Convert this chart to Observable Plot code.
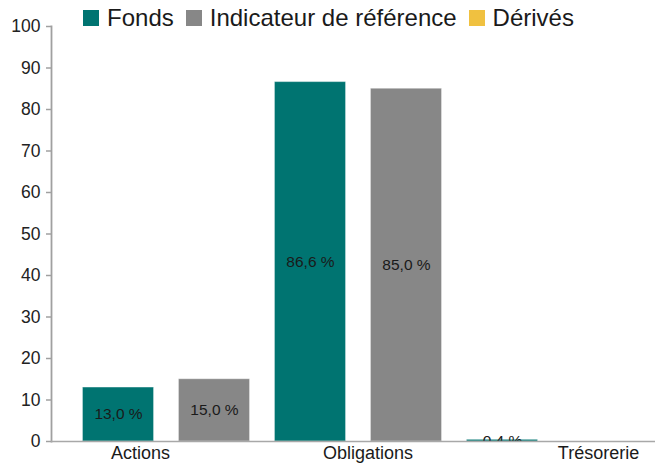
<!DOCTYPE html>
<html>
<head>
<meta charset="utf-8">
<script src="https://cdn.jsdelivr.net/npm/d3@7"></script>
<script src="https://cdn.jsdelivr.net/npm/@observablehq/plot@0.6"></script>
<style>
  html, body { margin: 0; padding: 0; background: #fff; }
  body { width: 657px; height: 465px; position: relative; overflow: hidden; font-family: "Liberation Sans", Arial, sans-serif; }
  #legend { position: absolute; top: 6px; left: 0; width: 657px; display: flex; justify-content: center; align-items: center; font-size: 24px; line-height: 24px; color: #1a1a1a; z-index: 2; }
  #legend .item { display: flex; align-items: center; margin: 0 6px; }
  #legend .sw { width: 16px; height: 16px; margin-right: 8px; }
  #chart { position: absolute; top: 0; left: 0; }
</style>
</head>
<body>
<div id="legend"></div>
<div id="chart"></div>
<script>
// ---- data ----
const categories = ["Actions", "Obligations", "Trésorerie"];
const series = ["Fonds", "Indicateur de référence", "Dérivés"];
const fonds = [13.0, 86.6, 0.4];
const indicateur = [15.0, 85.0, 0.0];
const derives = [0, 0, 0];
const yTicks = [0, 10, 20, 30, 40, 50, 60, 70, 80, 90, 100];
// category label positions (in bar-slot units)
const categoryTickPos = [0.23, 2.6, 5.0];

const colors = ["#007471", "#878787", "#f0c140"];

// ---- table ----
const rows = [];
categories.forEach((c, ci) => {
  [fonds, indicateur].forEach((arr, si) => {
    rows.push({ category: c, series: series[si], value: arr[ci], slot: ci * 2 + si });
  });
});
const halfBar = 0.37;

// ---- legend ----
const legend = document.getElementById("legend");
series.forEach((s, i) => {
  const it = document.createElement("div");
  it.className = "item";
  const sw = document.createElement("span");
  sw.className = "sw";
  sw.style.background = colors[i];
  const tx = document.createElement("span");
  tx.textContent = s;
  it.appendChild(sw); it.appendChild(tx);
  legend.appendChild(it);
});

const fmt = v => v.toFixed(1).replace(".", ",") + " %";

const chart = Plot.plot({
  width: 657,
  height: 465,
  marginLeft: 51,
  marginRight: 2,
  marginTop: 26,
  marginBottom: 24,
  style: { fontFamily: "Liberation Sans, Arial, sans-serif", color: "#1a1a1a", background: "#fff" },
  x: { type: "linear", domain: [-0.698, 5.594], axis: null, label: null },
  y: { domain: [0, 100], axis: null, label: null },
  color: { domain: series, range: colors },
  marks: [
    Plot.rectY(rows.filter(d => d.value > 0), {
      x1: d => d.slot - halfBar,
      x2: d => d.slot + halfBar,
      y1: 0,
      y2: "value",
      fill: "series",
      stroke: "#ffffff",
      strokeOpacity: 0.35,
      strokeWidth: 1
    }),
    Plot.text(rows.filter(d => d.value > 0), {
      x: "slot",
      y: d => d.value / 2,
      text: d => fmt(d.value),
      fill: "#1a1a1a",
      fontSize: 15.5,
      clip: true
    }),
    Plot.axisY({
      ticks: yTicks,
      tickSize: 5,
      tickPadding: 6,
      stroke: "#a0a0a0",
      strokeWidth: 1.5,
      fill: "#222",
      fontSize: 17.5,
      label: null,
      tickFormat: d => String(d)
    }),
    Plot.frame({ anchor: "left", stroke: "#a0a0a0", strokeWidth: 1.8 }),
    Plot.ruleY([0], { stroke: "#a8a8a8", strokeWidth: 1.5 }),
    Plot.axisX({
      ticks: categoryTickPos,
      tickSize: 0,
      tickPadding: 5,
      fill: "#1a1a1a",
      fontSize: 18,
      label: null,
      tickFormat: d => categories[categoryTickPos.indexOf(d)]
    })
  ]
});
document.getElementById("chart").appendChild(chart);
</script>
</body>
</html>
